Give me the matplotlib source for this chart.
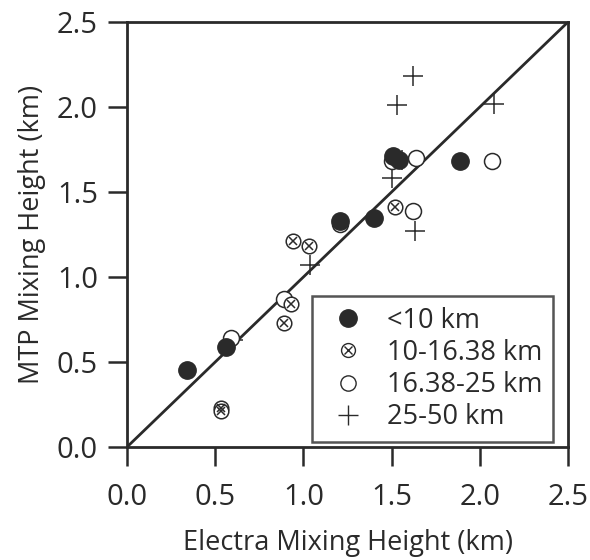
import matplotlib
matplotlib.use("Agg")
import matplotlib.pyplot as plt
from matplotlib.lines import Line2D

# <10 km (filled circles)
lt10_x = [0.34, 0.56, 1.21, 1.40, 1.51, 1.54, 1.89]
lt10_y = [0.45, 0.59, 1.33, 1.35, 1.71, 1.69, 1.68]

# 10-16.38 km (crossed circles)
b10_x = [0.94, 1.03, 1.52, 0.93, 0.89, 0.53, 0.53]
b10_y = [1.21, 1.18, 1.41, 0.84, 0.73, 0.23, 0.21]

# 16.38-25 km (open circles)
b16_x = [0.59, 0.89, 1.21, 1.50, 1.64, 1.62, 2.07]
b16_y = [0.64, 0.87, 1.31, 1.68, 1.70, 1.39, 1.68]

# 25-50 km (plus)
b25_x = [0.60, 1.04, 1.50, 1.56, 1.63, 1.53, 1.62, 2.08]
b25_y = [0.63, 1.07, 1.58, 1.69, 1.27, 2.01, 2.18, 2.02]

labels = ["<10 km", "10-16.38 km", "16.38-25 km", "25-50 km"]
ticks = [0.0, 0.5, 1.0, 1.5, 2.0, 2.5]
tick_labels = ["0.0", "0.5", "1.0", "1.5", "2.0", "2.5"]

C = "#2a2a2a"
plt.rcParams['font.family'] = ['Open Sans', 'DejaVu Sans']

fig = plt.figure(figsize=(5.9, 5.6), dpi=100)
ax = fig.add_axes([0.2153, 0.2018, 0.9627 - 0.2153, 0.9607 - 0.2018])

ax.plot([0, 2.5], [0, 2.5], color=C, lw=2.0, zorder=1)

ax.plot(b25_x, b25_y, ls='none', marker='+', ms=14, mew=1.1, color=C, zorder=2)
ax.plot(b16_x, b16_y, ls='none', marker='o', ms=11.5, mew=1.1, mfc='white', mec=C, zorder=3)
ax.plot(b10_x, b10_y, ls='none', marker='o', ms=10.5, mew=1.1, mfc='white', mec=C, zorder=4)
ax.plot(b10_x, b10_y, ls='none', marker='x', ms=5.5, mew=1.1, color=C, zorder=4)
ax.plot(lt10_x, lt10_y, ls='none', marker='o', ms=12.5, mew=1.0, mfc=C, mec=C, zorder=5)

ax.set_xlim(0, 2.5)
ax.set_ylim(0, 2.5)
ax.set_xticks(ticks)
ax.set_xticklabels(tick_labels)
ax.set_yticks(ticks)
ax.set_yticklabels(tick_labels)
ax.tick_params(direction='out', length=14, width=1.8, color=C, labelsize=21,
               labelcolor=C, pad=7)
ax.tick_params(axis='x', pad=12)
for s in ax.spines.values():
    s.set_linewidth(2.0)
    s.set_color(C)

ax.set_xlabel("Electra Mixing Height (km)", fontsize=19.5, color=C, labelpad=12)
ax.set_ylabel("MTP Mixing Height (km)", fontsize=19.5, color=C, labelpad=8)

h1 = Line2D([], [], ls='none', marker='o', ms=12.5, mfc=C, mec=C)
h2a = Line2D([], [], ls='none', marker='o', ms=10, mew=1.0, mfc='white', mec=C)
h2b = Line2D([], [], ls='none', marker='x', ms=5.5, mew=1.0, color=C)
h3 = Line2D([], [], ls='none', marker='o', ms=11, mew=1.0, mfc='white', mec=C)
h4 = Line2D([], [], ls='none', marker='+', ms=14, mew=1.0, color=C)
leg = ax.legend([h1, (h2a, h2b), h3, h4], labels, loc='lower right',
                bbox_to_anchor=(0.966, 0.012), fontsize=19.5, frameon=True,
                fancybox=False, edgecolor=C, handlelength=1.85, handletextpad=0.5,
                labelspacing=0.15, borderpad=0.4, borderaxespad=0.0)
leg.get_frame().set_linewidth(1.8)
for t in leg.get_texts():
    t.set_color(C)

fig.savefig("out.png", dpi=100)
